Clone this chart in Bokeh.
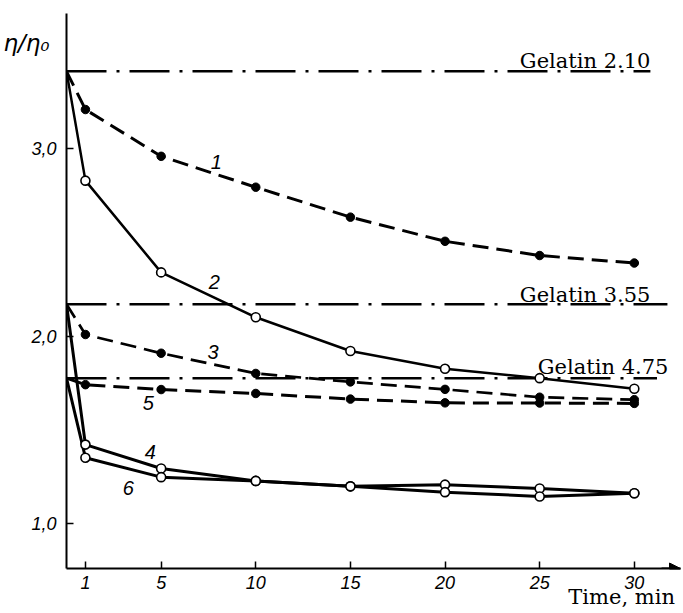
from bokeh.plotting import figure
from bokeh.models import Range1d, FixedTicker, Label, Arrow, NormalHead, LinearAxis
from bokeh.embed import file_html
from bokeh.resources import INLINE

# ---- data ----
time = [0, 1, 5, 10, 15, 20, 25, 30]
curve1 = [3.414, 3.21, 2.96, 2.795, 2.635, 2.506, 2.43, 2.39]
curve2 = [3.414, 2.83, 2.34, 2.10, 1.92, 1.825, 1.775, 1.718]
curve3 = [2.17, 2.008, 1.908, 1.80, 1.755, 1.715, 1.673, 1.66]
curve4 = [2.17, 1.42, 1.292, 1.226, 1.197, 1.206, 1.185, 1.16]
curve5 = [1.775, 1.74, 1.714, 1.693, 1.663, 1.643, 1.642, 1.64]
curve6 = [1.775, 1.35, 1.246, 1.226, 1.197, 1.166, 1.143, 1.16]

gelatin_names = ["Gelatin 2.10", "Gelatin 3.55", "Gelatin 4.75"]
gelatin_levels = [3.414, 2.17, 1.775]
gelatin_line_end = [30.85, 31.75, 31.2]

x_ticks = [1, 5, 10, 15, 20, 25, 30]
y_ticks = [1, 2, 3]
y_tick_labels = {1: "1,0", 2: "2,0", 3: "3,0"}
x_title = "Time, min"
y_title = "η/η₀"

X0, X1 = 0.0, 32.44
Y0, Y1 = 0.758, 3.723
Y_TITLE_AT = 3.568
X_TITLE_AT = 29.33

p = figure(width=683, height=613, x_range=Range1d(X0, X1), y_range=Range1d(Y0, Y1),
           output_backend="svg", toolbar_location=None,
           min_border_left=65, min_border_right=3, min_border_top=13, min_border_bottom=45)
p.outline_line_color = None
p.xgrid.visible = False
p.ygrid.visible = False
p.background_fill_color = "white"

for ax in (p.xaxis[0], p.yaxis[0]):
    ax.axis_line_width = 2
    ax.axis_line_color = "black"
    ax.major_tick_in = 7
    ax.major_tick_out = 0
    ax.major_tick_line_width = 1.5
    ax.minor_tick_line_color = None
    ax.major_label_text_font = "Liberation Sans"
    ax.major_label_text_font_style = "italic"
    ax.major_label_text_font_size = "18px"
    ax.major_label_text_color = "black"

p.xaxis[0].major_label_standoff = 7
p.yaxis[0].major_label_standoff = 10
p.xaxis[0].ticker = FixedTicker(ticks=x_ticks)
p.yaxis[0].ticker = FixedTicker(ticks=y_ticks)
p.yaxis[0].major_label_overrides = y_tick_labels

# axis titles carried by label-only axes (outside the frame)
eta_axis = LinearAxis(ticker=FixedTicker(ticks=[Y_TITLE_AT]), major_label_overrides={Y_TITLE_AT: y_title},
                      axis_line_color=None, major_tick_line_color=None, minor_tick_line_color=None,
                      major_tick_in=0, major_tick_out=0, major_label_standoff=-21,
                      major_label_text_font="DejaVu Sans", major_label_text_font_style="italic",
                      major_label_text_font_size="23px", major_label_text_color="black")
p.add_layout(eta_axis, "left")

time_axis = LinearAxis(ticker=FixedTicker(ticks=[X_TITLE_AT]), major_label_overrides={X_TITLE_AT: x_title},
                       axis_line_color=None, major_tick_line_color=None, minor_tick_line_color=None,
                       major_tick_in=0, major_tick_out=0, major_label_standoff=-7,
                       major_label_text_font="DejaVu Serif", major_label_text_font_size="21px",
                       major_label_text_color="black")
p.add_layout(time_axis, "below")

# reference lines for gelatin
for name, lev, xe in zip(gelatin_names, gelatin_levels, gelatin_line_end):
    p.line([0, xe], [lev, lev], line_color="black", line_width=2.5, line_dash="40 10 3 10")

label_pos = {"Gelatin 2.10": (30.85, 3.468), "Gelatin 3.55": (30.85, 2.22), "Gelatin 4.75": (31.8, 1.833)}
for name in gelatin_names:
    lx, ly = label_pos[name]
    p.add_layout(Label(x=lx, y=ly, text=name, text_align="right", text_baseline="alphabetic",
                       text_font="DejaVu Serif", text_font_size="21px", text_color="black"))

# dashed series with filled dots
for ys, lw in ((curve1, 3), (curve3, 2.7), (curve5, 3)):
    p.line(time, ys, line_color="black", line_width=lw, line_dash="16 8")
    p.scatter(time[1:], ys[1:], size=8.5, marker="circle", fill_color="black", line_color="black")

# solid series with open circles
for ys, lw in ((curve2, 2.5), (curve4, 3), (curve6, 3)):
    p.line(time, ys, line_color="black", line_width=lw)
for ys in (curve2, curve4, curve6):
    p.scatter(time[1:], ys[1:], size=9, marker="circle", fill_color="white", line_color="black", line_width=1.6)

# curve numbers
curve_label_pos = [("1", 7.91, 2.927), ("2", 7.81, 2.286), ("3", 7.75, 1.912),
                   ("5", 4.32, 1.64), ("4", 4.43, 1.383), ("6", 3.27, 1.19)]
for t, lx, ly in curve_label_pos:
    p.add_layout(Label(x=lx, y=ly, text=t, text_align="center", text_baseline="middle",
                       text_font="Liberation Sans", text_font_style="italic", text_font_size="20px",
                       text_color="black"))

# axis arrow
p.add_layout(Arrow(end=NormalHead(size=11, fill_color="black", line_color="black"),
                   x_start=X1 - 1.0, y_start=Y0, x_end=X1, y_end=Y0, line_width=2, line_color="black"))

open("out.html", "w").write(file_html(p, INLINE))
